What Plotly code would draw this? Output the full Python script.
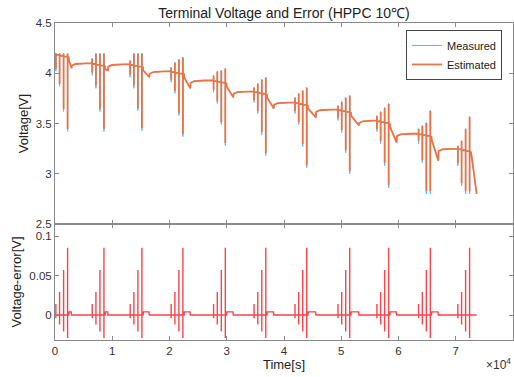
import plotly.graph_objects as go

# ---------------- data ----------------
# HPPC groups: start time of first pulse [s]
group_start_s = [150, 6500, 13130, 20290, 27700, 34770, 41920, 49430, 56230, 63510, 70370]
# offsets of the 4 pulses inside a group [s]
pulse_offset_s = [0, 650, 1350, 2050]
# rest voltage before each group [V]
rest_before_v = [4.19, 4.10, 4.09, 4.02, 3.93, 3.82, 3.71, 3.64, 3.53, 3.40, 3.25]
# minimum voltage during SOC discharge after each group [V]
dip_v = [4.05, 4.03, 3.96, 3.85, 3.76, 3.65, 3.56, 3.48, 3.31, 3.13, 2.80]
# delay from last pulse to end of SOC discharge [s]
dip_delay_s = [700, 700, 1300, 1300, 1400, 1400, 1600, 1600, 1400, 1400, 1250]
# measured pulse minima [V]
meas_min_v = [
    [4.02, 3.87, 3.62, 3.42],
    [3.98, 3.85, 3.62, 3.42],
    [3.96, 3.85, 3.63, 3.43],
    [3.91, 3.80, 3.58, 3.37],
    [3.81, 3.70, 3.49, 3.28],
    [3.71, 3.60, 3.39, 3.18],
    [3.60, 3.49, 3.27, 3.06],
    [3.53, 3.41, 3.21, 3.00],
    [3.42, 3.30, 3.08, 2.86],
    [3.30, 3.11, 2.80, 2.80],
    [3.08, 2.88, 2.80, 2.80],
]
# measured pulse maxima [V]
meas_top_v = [
    [4.20, 4.20, 4.20, 4.20],
    [4.15, 4.20, 4.20, 4.20],
    [4.13, 4.20, 4.20, 4.20],
    [4.06, 4.11, 4.14, 4.16],
    [3.98, 4.02, 4.03, 4.05],
    [3.86, 3.90, 3.94, 3.96],
    [3.76, 3.80, 3.83, 3.86],
    [3.68, 3.72, 3.76, 3.78],
    [3.58, 3.62, 3.66, 3.70],
    [3.45, 3.48, 3.51, 3.63],
    [3.28, 3.33, 3.45, 3.57],
]
# estimation offset at pulse minima (estimated is slightly higher) [V]
est_min_offset_v = 0.025
# final cut-off
end_time_s = 73650
end_voltage_v = 2.80
# voltage error spikes per pulse [V]
err_pos_v = [0.014, 0.029, 0.057, 0.085]
err_neg_v = [-0.004, -0.012, -0.021, -0.029]
err_bump_v = 0.004

x_tickvals = [0, 10000, 20000, 30000, 40000, 50000, 60000, 70000, 80000]
x_ticktext = ["0", "1", "2", "3", "4", "5", "6", "7", "8"]
y1_tickvals = [2.5, 3.0, 3.5, 4.0, 4.5]
y1_ticktext = ["2.5", "3", "3.5", "4", "4.5"]
y2_tickvals = [0, 0.05, 0.1]
y2_ticktext = ["0", "0.05", "0.1"]

# ---------------- build series ----------------
tm, vm, ve = [0], [rest_before_v[0]], [rest_before_v[0]]
te_, err = [0], [0.0]
n = len(group_start_s)
for g in range(n):
    level = rest_before_v[g]
    for k, off in enumerate(pulse_offset_s):
        t0 = group_start_s[g] + off
        lo = meas_min_v[g][k]
        hi = meas_top_v[g][k]
        new_level = level - 0.008
        pts = [(t0, level, level), (t0, lo, min(lo + est_min_offset_v, level)),
               (t0, hi, hi - 0.005), (t0, new_level, new_level)]
        level = new_level
        for t, a, b in pts:
            tm.append(t); vm.append(a); ve.append(b)
        te_ += [t0, t0, t0, t0]
        err += [0.0, err_neg_v[k], err_pos_v[k], 0.0]
    tend = group_start_s[g] + pulse_offset_s[-1]
    if g < n - 1:
        rn = rest_before_v[g + 1]
        seg = [(tend + 200, level), (tend + 230, level - 0.03),
               (tend + dip_delay_s[g], dip_v[g]),
               (tend + dip_delay_s[g] + 40, rn - 0.025),
               (tend + dip_delay_s[g] + 700, rn - 0.008),
               (tend + dip_delay_s[g] + 2500, rn - 0.002),
               (group_start_s[g + 1] - 10, rn)]
        for t, v in seg:
            tm.append(t); vm.append(v); ve.append(v)
        te_ += [tend + 200, tend + 260, tend + dip_delay_s[g] - 60, tend + dip_delay_s[g]]
        err += [0.0, err_bump_v, err_bump_v, 0.0]
    else:
        seg = [(tend + 200, level), (tend + 300, level - 0.02), (end_time_s, end_voltage_v)]
        for t, v in seg:
            tm.append(t); vm.append(v); ve.append(v)
        te_ += [end_time_s]
        err += [0.0]

fig = go.Figure()
fig.add_trace(go.Scatter(x=tm, y=vm, mode="lines", name="Measured",
                         line=dict(color="#4DBEEE", width=1.0, simplify=False),
                         xaxis="x", yaxis="y"))
fig.add_trace(go.Scatter(x=tm, y=ve, mode="lines", name="Estimated",
                         line=dict(color="#EA7447", width=1.8, simplify=False),
                         xaxis="x", yaxis="y"))
fig.add_trace(go.Scatter(x=te_, y=err, mode="lines", showlegend=False,
                         line=dict(color="rgb(244,70,76)", width=1.4, simplify=False),
                         xaxis="x2", yaxis="y2"))

axcol = "#8a8a8a"
tickfont = dict(family="Liberation Sans, Arial, sans-serif", size=11.5, color="#333333")
common_x = dict(range=[0, 80000], tickvals=x_tickvals, ticks="inside", ticklen=4,
                tickcolor=axcol, showline=True, linecolor=axcol, linewidth=1,
                mirror="allticks", showgrid=False, zeroline=False, automargin=False,
                tickfont=tickfont)
common_y = dict(ticks="inside", ticklen=4, tickcolor=axcol, showline=True,
                linecolor=axcol, linewidth=1, mirror="allticks", showgrid=False,
                zeroline=False, automargin=False, tickfont=tickfont)

split = 116 / 317
fig.update_layout(
    width=514, height=377,
    margin=dict(l=55, r=1, t=23, b=37),
    paper_bgcolor="white", plot_bgcolor="white",
    template="none",
    font=dict(family="Liberation Sans, Arial, sans-serif", color="#222222"),
    title=dict(text="Terminal Voltage and Error (HPPC 10℃)", x=0.5, xref="paper",
               y=1 - 13 / 377, yref="container", yanchor="middle", xanchor="center",
               font=dict(size=14, color="#222222")),
    xaxis=dict(**common_x, anchor="y", domain=[0, 1], showticklabels=False),
    yaxis=dict(**common_y, anchor="x", domain=[split, 1], range=[2.5, 4.5],
               tickvals=y1_tickvals, ticktext=y1_ticktext,
               title=dict(text="Voltage[V]", font=dict(size=13), standoff=4)),
    xaxis2=dict(**common_x, anchor="y2", domain=[0, 1], matches="x",
                ticktext=x_ticktext,
                title=dict(text="Time[s]", font=dict(size=13), standoff=2)),
    yaxis2=dict(**common_y, anchor="x2", domain=[0, split], range=[-0.0316, 0.1152],
                tickvals=y2_tickvals, ticktext=y2_ticktext,
                title=dict(text="Voltage-error[V]", font=dict(size=13), standoff=4)),
    legend=dict(x=0.976, y=0.978, xanchor="right", yanchor="top",
                bgcolor="white", bordercolor="#444444", borderwidth=1,
                font=dict(size=11, color="#222222"), tracegroupgap=0),
    annotations=[dict(text="×10<sup>4</sup>", xref="paper", yref="paper",
                      x=1.0, y=-0.108, xanchor="right", yanchor="bottom",
                      showarrow=False, font=dict(size=12, color="#333333"))],
)

fig.write_html("out.html")
